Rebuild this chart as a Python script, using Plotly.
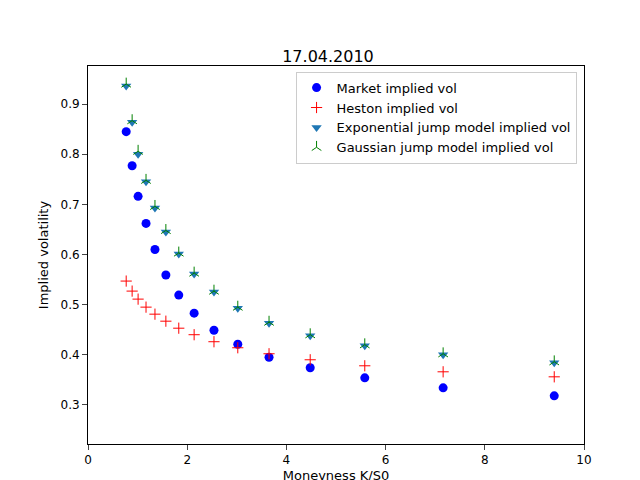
import plotly.graph_objects as go

moneyness = [0.77, 0.89, 1.01, 1.17, 1.35, 1.57, 1.83, 2.14, 2.54, 3.02, 3.65, 4.48, 5.58, 7.16, 9.40]
market_vol = [0.845, 0.777, 0.716, 0.662, 0.610, 0.559, 0.519, 0.483, 0.449, 0.421, 0.395, 0.374, 0.354, 0.334, 0.318]
heston_vol = [0.547, 0.527, 0.511, 0.495, 0.481, 0.467, 0.453, 0.440, 0.426, 0.414, 0.402, 0.390, 0.378, 0.366, 0.356]
exp_jump_vol = [0.936, 0.864, 0.800, 0.745, 0.693, 0.645, 0.601, 0.561, 0.525, 0.493, 0.463, 0.438, 0.418, 0.400, 0.384]
gauss_jump_vol = [0.940, 0.867, 0.806, 0.748, 0.696, 0.648, 0.603, 0.563, 0.527, 0.495, 0.465, 0.440, 0.420, 0.402, 0.386]

fig = go.Figure()
fig.add_trace(go.Scatter(x=moneyness, y=market_vol, mode='markers', name='Market implied vol',
                         marker=dict(symbol='circle', color='blue', size=9)))
fig.add_trace(go.Scatter(x=moneyness, y=heston_vol, mode='markers', name='Heston implied vol',
                         marker=dict(symbol='cross-thin', size=8, line=dict(color='red', width=1))))
fig.add_trace(go.Scatter(x=moneyness, y=exp_jump_vol, mode='markers', name='Exponential jump model implied vol',
                         marker=dict(symbol='triangle-down', color='#1f77b4', size=9)))
fig.add_trace(go.Scatter(x=moneyness, y=gauss_jump_vol, mode='markers', name='Gaussian jump model implied vol',
                         marker=dict(symbol='y-up', size=8, line=dict(color='green', width=1))))

fig.update_layout(
    width=640, height=480, plot_bgcolor='white', paper_bgcolor='white',
    margin=dict(l=80, r=64, t=58, b=44, autoexpand=False),
    font=dict(family='DejaVu Sans', size=12, color='black'),
    title=dict(text='17.04.2010', x=0.5, xanchor='center', y=0.91, font=dict(size=16)),
    legend=dict(x=0.985, y=0.985, xanchor='right', yanchor='top', bordercolor='#cccccc', borderwidth=1,
                bgcolor='rgba(255,255,255,0.8)', font=dict(size=13), tracegroupgap=0),
    showlegend=True,
)
fig.update_xaxes(range=[0, 10], dtick=2, title=dict(text='Moneyness K/S0', standoff=4, font=dict(size=13)),
                 showgrid=False, automargin=False,
                 showline=True, linecolor='black', mirror=True, ticks='outside', zeroline=False)
fig.update_yaxes(range=[0.222, 0.976], dtick=0.1, tickformat='.1f',
                 title=dict(text='Implied volatility', font=dict(size=13), standoff=8), automargin=False,
                 showgrid=False, showline=True, linecolor='black', mirror=True, ticks='outside', zeroline=False)

fig.write_html("out.html")
